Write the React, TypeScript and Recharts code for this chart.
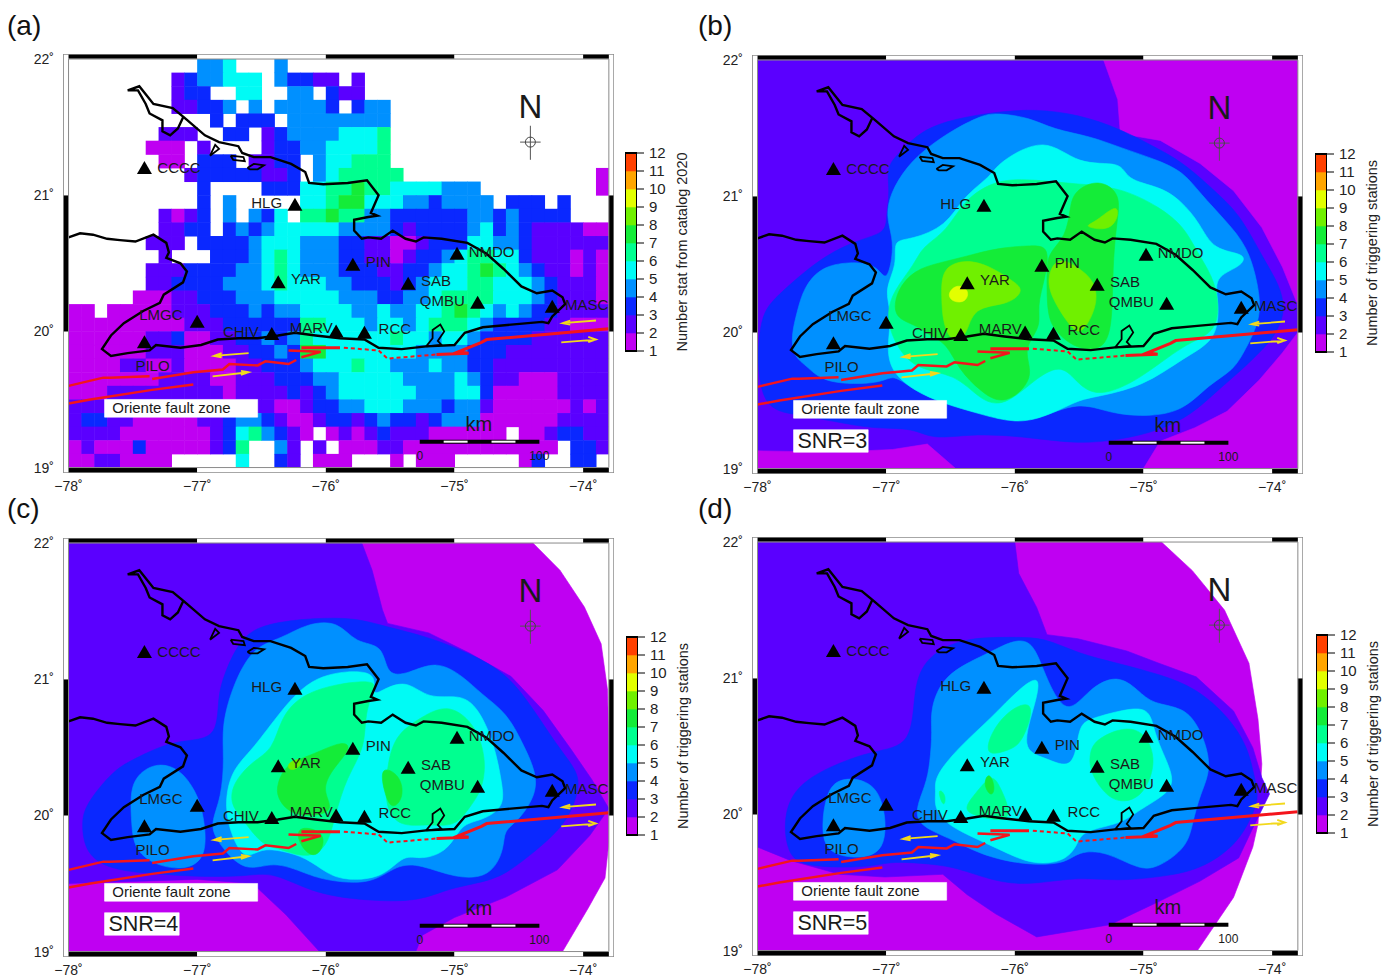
import React from "react";
import { ScatterChart, Scatter, XAxis, YAxis } from "recharts";

type Pt = number[];
type Zone = [number, Pt[]];

const FONT = "'Liberation Sans', Arial, sans-serif";

// colour of each level band 1-2, 2-3 ... 11-12
const levelColors = ["#bf00f2", "#5a00ff", "#0a28ff", "#0090ff", "#00fbf5", "#00ff90", "#14ec38", "#70f000", "#e2ff00", "#ffa500", "#ff4000"];
const levelTicks = [1, 2, 3, 4, 5, 6, 7, 8, 9, 10, 11, 12];
const lonTicks = [-78, -77, -76, -75, -74];
const latTicks = [19, 20, 21, 22];

const stations = [
  { name: "CCCC", lon: -77.41, lat: 21.2 },
  { name: "HLG", lon: -76.24, lat: 20.93 },
  { name: "PIN", lon: -75.79, lat: 20.49 },
  { name: "YAR", lon: -76.37, lat: 20.36 },
  { name: "SAB", lon: -75.36, lat: 20.35 },
  { name: "NMDO", lon: -74.98, lat: 20.57 },
  { name: "QMBU", lon: -74.82, lat: 20.21 },
  { name: "MASC", lon: -74.24, lat: 20.18 },
  { name: "LMGC", lon: -77.0, lat: 20.07 },
  { name: "PILO", lon: -77.41, lat: 19.92 },
  { name: "CHIV", lon: -76.42, lat: 19.98 },
  { name: "MARV", lon: -75.92, lat: 20.0 },
  { name: "RCC", lon: -75.7, lat: 19.99 },
];

const stationLabels = [
  { name: "CCCC", lon: -77.31, lat: 21.2 },
  { name: "HLG", lon: -76.58, lat: 20.95 },
  { name: "PIN", lon: -75.69, lat: 20.51 },
  { name: "YAR", lon: -76.27, lat: 20.39 },
  { name: "SAB", lon: -75.26, lat: 20.37 },
  { name: "NMDO", lon: -74.89, lat: 20.59 },
  { name: "QMBU", lon: -75.27, lat: 20.23 },
  { name: "MASC", lon: -74.14, lat: 20.2 },
  { name: "LMGC", lon: -77.45, lat: 20.125 },
  { name: "PILO", lon: -77.48, lat: 19.75 },
  { name: "CHIV", lon: -76.8, lat: 20.0 },
  { name: "MARV", lon: -76.28, lat: 20.03 },
  { name: "RCC", lon: -75.59, lat: 20.02 },
];

const coastMain: Pt[] = [
  [-78, 20.69], [-77.91, 20.72], [-77.81, 20.71], [-77.7, 20.68], [-77.6, 20.67], [-77.48, 20.66], [-77.34, 20.71], [-77.24, 20.65], [-77.22, 20.58], [-77.24, 20.54],
  [-77.13, 20.5], [-77.08, 20.44], [-77.11, 20.36], [-77.26, 20.27], [-77.29, 20.21], [-77.42, 20.15], [-77.57, 20.06], [-77.67, 19.97], [-77.74, 19.87], [-77.67, 19.82],
  [-77.54, 19.84], [-77.37, 19.86], [-77.32, 19.9], [-77.13, 19.88], [-76.97, 19.9], [-76.84, 19.94], [-76.68, 19.95], [-76.53, 19.95], [-76.37, 19.97], [-76.24, 19.99],
  [-76.08, 19.97], [-75.89, 19.95], [-75.7, 19.94], [-75.59, 19.88], [-75.41, 19.87], [-75.22, 19.89], [-75, 19.9], [-74.92, 19.99], [-74.78, 20.03], [-74.56, 20.05],
  [-74.32, 20.07], [-74.27, 20.06], [-74.24, 20.11], [-74.14, 20.2], [-74.16, 20.25], [-74.24, 20.3], [-74.36, 20.28], [-74.48, 20.33], [-74.62, 20.46], [-74.75, 20.57],
  [-74.9, 20.65], [-75.1, 20.68], [-75.24, 20.69], [-75.3, 20.66], [-75.38, 20.68], [-75.48, 20.74], [-75.57, 20.68], [-75.67, 20.69], [-75.72, 20.68], [-75.78, 20.74],
  [-75.78, 20.82], [-75.67, 20.84], [-75.6, 20.85], [-75.65, 20.87], [-75.59, 21], [-75.68, 21.11], [-75.83, 21.09], [-76.02, 21.08], [-76.13, 21.09], [-76.16, 21.17],
  [-76.27, 21.23], [-76.43, 21.28], [-76.56, 21.28], [-76.65, 21.31], [-76.68, 21.36], [-76.83, 21.39], [-76.94, 21.44], [-77.1, 21.57], [-77.19, 21.64], [-77.34, 21.67],
  [-77.45, 21.8], [-77.54, 21.77], [-77.46, 21.77], [-77.4, 21.67], [-77.37, 21.6], [-77.27, 21.55], [-77.27, 21.47], [-77.21, 21.44], [-77.15, 21.49], [-77.11, 21.57],
];
const coastIslands: Pt[][] = [
  [[-76.9, 21.29], [-76.83, 21.34], [-76.86, 21.37], [-76.9, 21.29]],
  [[-76.74, 21.29], [-76.64, 21.28], [-76.63, 21.25], [-76.72, 21.26], [-76.74, 21.29]],
  [[-76.61, 21.2], [-76.56, 21.23], [-76.48, 21.22], [-76.53, 21.19], [-76.59, 21.19], [-76.61, 21.2]],
  [[-75.22, 19.89], [-75.17, 19.95], [-75.17, 20.01], [-75.11, 20.05], [-75.08, 20], [-75.13, 19.93], [-75.1, 19.9], [-75.22, 19.89]],
];

const faultsSolid: Pt[][] = [
  [[-78, 19.6], [-77.73, 19.66], [-77.68, 19.66], [-77.37, 19.67]],
  [[-77.35, 19.65], [-77.03, 19.7], [-76.8, 19.72], [-76.75, 19.76], [-76.53, 19.75], [-76.47, 19.78], [-76.29, 19.76], [-76.23, 19.79]],
  [[-76.19, 19.81], [-76.04, 19.85], [-76.29, 19.86]],
  [[-76.19, 19.88], [-75.89, 19.88]],
  [[-75.14, 19.83], [-74.89, 19.84], [-74.97, 19.85], [-74.79, 19.92], [-74.75, 19.94], [-73.8, 20.02]],
  [[-78, 19.47], [-77.83, 19.5], [-77.35, 19.57], [-77.03, 19.61]],
];
const faultDashed: Pt[] = [[-75.86, 19.88], [-75.59, 19.86], [-75.52, 19.8], [-75.14, 19.83]];

const slipArrows: Pt[][] = [
  [[-73.9, 20.08], [-74.16, 20.06], [-74.1, 20.08], [-74.16, 20.06], [-74.1, 20.05]],
  [[-74.17, 19.92], [-73.9, 19.94], [-73.96, 19.96], [-73.9, 19.94], [-73.96, 19.92]],
  [[-76.6, 19.84], [-76.87, 19.82], [-76.81, 19.84], [-76.87, 19.82], [-76.81, 19.81]],
  [[-76.88, 19.67], [-76.6, 19.7], [-76.66, 19.71], [-76.6, 19.7], [-76.66, 19.68]],
];

const faultBox: Pt[] = [[-77.72, 19.5], [-76.53, 19.5], [-76.53, 19.37], [-77.72, 19.37]];
const snrBox: Pt[] = [[-77.72, 19.285], [-77.14, 19.285], [-77.14, 19.12], [-77.72, 19.12]];
const scaleLon = [-75.27, -75.084, -74.898, -74.712, -74.526, -74.34];

// panel (a): hit count per 0.1 degree cell, north to south, west to east, "." = none
const rowsA = [
  ["..........", "445...4...", "..........", "..........", "..."],
  ["........23", "44555.4332", "2.2.......", "..........", "..."],
  ["........23", "3..55..44.", "322.......", "..........", "..."],
  ["........22", "334.4.4444", "3.344.....", "..........", "..."],
  ["..........", ".3.333.444", "44444.....", "..........", "..."],
  [".......222", "..33.23444", "45556.....", "..........", "..."],
  ["......111.", "2....23344", "55556.....", "..........", "..."],
  [".......11.", "333.2233.4", "55666.....", "..........", "..."],
  [".........2", "33333223.4", "566666....", "..........", ".1."],
  ["..........", "3....33355", "6676655554", "44........", ".1."],
  ["..........", "3.4.....55", "6775554434", "444.333.3.", "..."],
  [".......212", "3.4.435.66", "7664433333", "344343333.", "..."],
  [".......223", "3.34345555", "5444432333", "3453432222", "111"],
  ["......222.", "3333455544", "4332211233", "3554432222", "222"],
  [".......2..", ".333456544", "4332212334", "5665532221", "211"],
  ["......2223", "3334456544", "4333223345", "5676543221", "211"],
  ["......2233", "3344456555", "4433323455", "5665554322", "211"],
  [".....11122", "3334445555", "5444334456", "6665554322", "211"],
  ["11.1111122", "2333434455", "5544544556", "7654543322", "222"],
  ["1111111112", "2233333366", "5554554566", "6543333221", "111"],
  ["1111112231", "1223343465", "5555565545", "5433332222", "221"],
  ["1111112221", "1122334377", "5555555444", "4333222222", "222"],
  ["1111221121", "1112233345", "5565544454", "4332222222", "222"],
  ["1111111222", "2112223334", "4555554444", "5432211122", "222"],
  ["1112222222", "2212222323", "4555555444", "5531111122", "222"],
  ["2222222222", "2222221123", "3445554443", "4421111112", "122"],
  ["2332211111", "2234432112", "3323433234", "4411111122", "222"],
  ["2222111111", "123564321.", "1212322211", "1111.11233", "221"],
  ["1211131111", "1236..42.2", ".111221111", "11111111.3", "321"],
  ["11221111..", "...5..32.1", "11...1.111", ".....13..3", "3.1"],
];

const zonesB: Zone[] = [
  [2, [[-78, 22], [-73.8, 22], [-73.8, 19], [-78, 19]]],
  [1, [[-75.31, 22], [-73.8, 22], [-73.8, 20.2], [-73.92, 20.48], [-74.08, 20.77], [-74.3, 21.04], [-74.56, 21.24], [-74.87, 21.41], [-75.18, 21.46], [-75.2, 21.71]]],
  [1, [[-73.8, 20], [-73.8, 19], [-75, 19], [-74.87, 19.2], [-74.6, 19.3], [-74.35, 19.42], [-74.1, 19.65], [-73.92, 19.85]]],
  [1, [[-78, 19.13], [-77.4, 19.12], [-76.95, 19.14], [-76.68, 19.18], [-76.46, 19], [-78, 19]]],
  [3, [[-77, 20.73], [-77.22, 20.68], [-77.51, 20.55], [-77.86, 20.26], [-78, 20.11], [-78, 19.45], [-77.73, 19.4], [-77.42, 19.35], [-77.1, 19.29], [-76.78, 19.3], [-76.65, 19.21], [-76.3, 19.26], [-75.89, 19.23], [-75.51, 19.18], [-75.19, 19.21], [-74.87, 19.28], [-74.62, 19.4], [-74.43, 19.57], [-74.24, 19.72], [-74.08, 19.87], [-73.98, 19.97], [-73.89, 20.16], [-73.95, 20.36], [-74.05, 20.51], [-74.24, 20.85], [-74.4, 21], [-74.68, 21.24], [-74.87, 21.34], [-75.19, 21.5], [-75.51, 21.6], [-75.83, 21.64], [-76.14, 21.62], [-76.46, 21.57], [-76.72, 21.49], [-76.91, 21.31], [-77, 21.21], [-76.97, 21.04], [-77, 20.85]]],
  [4, [[-77, 20.36], [-77.07, 20.5], [-77.29, 20.52], [-77.51, 20.48], [-77.64, 20.33], [-77.69, 20.16], [-77.74, 19.97], [-77.72, 19.82], [-77.61, 19.75], [-77.48, 19.62], [-77.03, 19.62], [-76.95, 19.7], [-76.78, 19.57], [-76.56, 19.48], [-76.27, 19.4], [-76.02, 19.38], [-75.83, 19.35], [-75.51, 19.5], [-75.25, 19.4], [-74.94, 19.38], [-74.68, 19.43], [-74.49, 19.62], [-74.3, 19.72], [-74.21, 19.87], [-74.08, 20.11], [-74.11, 20.36], [-74.19, 20.63], [-74.36, 20.82], [-74.56, 21.02], [-74.68, 21.17], [-74.87, 21.26], [-75.19, 21.36], [-75.41, 21.44], [-75.7, 21.49], [-75.89, 21.58], [-76.14, 21.61], [-76.24, 21.6], [-76.46, 21.5], [-76.68, 21.36], [-76.84, 21.22], [-76.97, 21.02], [-77, 20.85], [-76.95, 20.7], [-76.95, 20.55]]],
  [5, [[-76.95, 20.68], [-76.91, 20.5], [-77.02, 20.31], [-76.95, 20.14], [-77, 19.87], [-76.95, 19.7], [-76.78, 19.57], [-76.56, 19.48], [-76.27, 19.4], [-75.99, 19.33], [-75.76, 19.38], [-75.51, 19.5], [-75.41, 19.52], [-75, 19.6], [-74.68, 19.82], [-74.43, 19.94], [-74.41, 20.21], [-74.46, 20.41], [-74.24, 20.48], [-74.19, 20.58], [-74.46, 20.6], [-74.56, 20.8], [-74.71, 20.97], [-74.87, 21.07], [-75.14, 21.12], [-75.16, 21.26], [-75.51, 21.22], [-75.76, 21.45], [-76.14, 21.24], [-76.18, 21.15], [-76.4, 21], [-76.53, 20.78], [-76.81, 20.68]]],
  [6, [[-76.53, 20.74], [-76.4, 20.97], [-76.14, 21.13], [-75.83, 21.12], [-75.54, 21.09], [-75.19, 21.07], [-74.87, 20.92], [-74.68, 20.77], [-74.59, 20.6], [-74.46, 20.41], [-74.41, 20.21], [-74.44, 19.99], [-74.68, 19.92], [-75.03, 19.65], [-75.35, 19.52], [-75.51, 19.62], [-75.63, 19.77], [-75.83, 19.67], [-76.08, 19.45], [-76.27, 19.5], [-76.46, 19.7], [-76.78, 19.72], [-76.95, 19.94], [-77, 20.14], [-76.94, 20.31], [-76.78, 20.5], [-76.72, 20.63]]],
  [7, [[-76.78, 20.46], [-76.59, 20.51], [-76.37, 20.56], [-76.14, 20.62], [-75.86, 20.64], [-75.73, 20.63], [-75.76, 20.41], [-75.83, 20.19], [-75.79, 20.04], [-75.95, 19.87], [-75.83, 19.67], [-76.08, 19.45], [-76.27, 19.57], [-76.43, 19.72], [-76.53, 19.92], [-76.65, 19.97], [-76.78, 20.06], [-76.95, 20.11], [-76.92, 20.31]]],
  [7, [[-75.54, 21.04], [-75.35, 21.13], [-75.17, 21.02], [-75.21, 20.8], [-75.24, 20.48], [-75.24, 20.11], [-75.29, 19.87], [-75.51, 19.87], [-75.67, 19.99], [-75.75, 20.11], [-75.75, 20.41], [-75.75, 20.58], [-75.6, 20.7], [-75.57, 20.92]]],
  [8, [[-76.57, 20.48], [-76.37, 20.54], [-76.18, 20.48], [-76.02, 20.38], [-75.92, 20.31], [-76.05, 20.2], [-76.33, 20.19], [-76.37, 19.97], [-76.49, 19.92], [-76.56, 20.07], [-76.57, 20.26]]],
  [8, [[-75.67, 20.56], [-75.51, 20.48], [-75.38, 20.38], [-75.35, 20.21], [-75.48, 19.97], [-75.57, 20.04], [-75.72, 20.26], [-75.75, 20.41]]],
  [8, [[-75.38, 20.8], [-75.17, 20.98], [-75.22, 20.73], [-75.48, 20.78]]],
  [9, [[-76.53, 20.28], [-76.45, 20.36], [-76.35, 20.31], [-76.38, 20.22], [-76.48, 20.22]]],
];

const zonesC: Zone[] = [
  [1, [[-75.72, 22], [-74.39, 22], [-74.18, 21.8], [-73.99, 21.53], [-73.86, 21.26], [-73.81, 20.92], [-73.8, 20.5], [-73.8, 19.8], [-73.83, 19.54], [-73.96, 19.32], [-74.16, 19], [-78, 19], [-78, 19.6]]],
  [2, [[-78, 22], [-75.72, 22], [-75.64, 21.8], [-75.56, 21.51], [-75.52, 21.41], [-75.2, 21.34], [-74.88, 21.19], [-74.56, 21.02], [-74.31, 20.77], [-74.09, 20.48], [-73.93, 20.26], [-73.8, 20.05], [-73.95, 19.85], [-74.2, 19.6], [-74.6, 19.4], [-75, 19.25], [-75.25, 19.12], [-75.3, 19], [-76.05, 19], [-76.31, 19.27], [-76.57, 19.5], [-77, 19.53], [-78, 19.5]]],
  [3, [[-77.9, 19.94], [-77.87, 20.08], [-77.65, 20.33], [-77.52, 20.4], [-77.24, 20.53], [-77.05, 20.55], [-76.84, 20.58], [-76.84, 20.87], [-76.79, 21.04], [-76.66, 21.31], [-76.47, 21.41], [-76.09, 21.45], [-75.77, 21.45], [-75.55, 21.39], [-75.2, 21.31], [-74.88, 21.19], [-74.59, 21.04], [-74.4, 20.8], [-74.18, 20.48], [-74.02, 20.3], [-74.05, 20.13], [-74.12, 19.98], [-74.24, 19.84], [-74.5, 19.64], [-74.69, 19.52], [-75.04, 19.47], [-75.26, 19.37], [-75.64, 19.37], [-76.09, 19.42], [-76.41, 19.59], [-76.63, 19.55], [-77.01, 19.55], [-77.33, 19.57], [-77.68, 19.6], [-77.87, 19.72]]],
  [4, [[-77.52, 20.13], [-77.49, 20.28], [-77.33, 20.39], [-77.14, 20.35], [-77.01, 20.18], [-76.95, 20.01], [-76.92, 19.72], [-77.05, 19.6], [-77.3, 19.62], [-77.49, 19.74], [-77.51, 19.94]]],
  [4, [[-76.81, 20.65], [-76.73, 20.94], [-76.57, 21.24], [-76.34, 21.3], [-76.15, 21.41], [-75.9, 21.43], [-75.77, 21.26], [-75.55, 21.26], [-75.53, 21.02], [-75.36, 21.04], [-75.14, 21.14], [-74.93, 21.02], [-74.79, 20.89], [-74.59, 20.75], [-74.47, 20.53], [-74.37, 20.33], [-74.36, 20.16], [-74.5, 19.96], [-74.62, 19.89], [-74.61, 19.76], [-74.72, 19.54], [-75, 19.54], [-75.26, 19.64], [-75.45, 19.64], [-75.64, 19.49], [-75.99, 19.52], [-76.15, 19.57], [-76.41, 19.67], [-76.63, 19.57], [-76.85, 19.81], [-76.9, 19.94], [-76.81, 20.13], [-76.79, 20.43]]],
  [5, [[-76.74, 20.33], [-76.57, 20.48], [-76.35, 20.77], [-76.09, 21.04], [-75.68, 21.07], [-75.61, 21], [-75.64, 20.87], [-75.53, 20.94], [-75.36, 20.99], [-75.2, 20.85], [-74.96, 20.89], [-74.82, 20.8], [-74.69, 20.53], [-74.63, 20.23], [-74.61, 20.06], [-74.79, 19.96], [-74.95, 19.94], [-75.04, 19.74], [-75.26, 19.67], [-75.39, 19.72], [-75.55, 19.54], [-75.84, 19.52], [-75.99, 19.57], [-76.15, 19.69], [-76.34, 19.74], [-76.5, 19.76], [-76.63, 19.67], [-76.73, 19.84], [-76.79, 20.06]]],
  [6, [[-76.73, 20.23], [-76.57, 20.4], [-76.41, 20.48], [-76.35, 20.72], [-76.19, 20.89], [-75.9, 20.97], [-75.64, 20.99], [-75.61, 20.95], [-75.7, 20.75], [-75.69, 20.5], [-75.84, 20.28], [-75.93, 19.99], [-75.99, 19.76], [-76.15, 19.68], [-76.37, 19.76], [-76.5, 19.78], [-76.66, 19.99], [-76.74, 20.08]]],
  [6, [[-75.52, 20.4], [-75.45, 20.6], [-75.26, 20.72], [-75.04, 20.83], [-74.82, 20.65], [-74.75, 20.38], [-74.79, 20.18], [-74.88, 20.06], [-75, 19.91], [-75.2, 19.94], [-75.42, 19.91], [-75.55, 20.06]]],
  [7, [[-76.38, 20.23], [-76.31, 20.38], [-76.09, 20.45], [-75.87, 20.55], [-75.79, 20.5], [-75.96, 20.33], [-76.03, 20.18], [-75.93, 20.04], [-76.09, 19.99], [-76.28, 20.01], [-76.38, 20.13]]],
  [7, [[-75.58, 20.37], [-75.42, 20.3], [-75.39, 20.13], [-75.49, 20.03], [-75.55, 20.18]]],
  [7, [[-76.22, 19.93], [-76, 19.88], [-76.03, 19.73], [-76.12, 19.69], [-76.22, 19.81]]],
  [8, [[-76.31, 20.38], [-76.19, 20.43], [-76.19, 20.36], [-76.28, 20.32]]],
];

const zonesD: Zone[] = [
  [1, [[-76, 22], [-74.86, 22], [-74.62, 21.79], [-74.37, 21.5], [-74.18, 21.11], [-74.11, 20.7], [-74.08, 20.37], [-74.11, 19.93], [-74.15, 19.76], [-74.3, 19.39], [-74.58, 19], [-78, 19], [-78, 19.8]]],
  [2, [[-78, 22], [-76, 22], [-75.97, 21.77], [-75.83, 21.52], [-75.75, 21.32], [-75.51, 21.29], [-75.13, 21.2], [-74.88, 21.11], [-74.59, 21.01], [-74.3, 20.76], [-74.15, 20.49], [-74.08, 20.27], [-74.02, 20.15], [-74.16, 19.88], [-74.26, 19.68], [-74.56, 19.51], [-74.88, 19.36], [-75.26, 19.19], [-75.83, 19.1], [-76.15, 19.27], [-76.37, 19.41], [-76.56, 19.56], [-77.01, 19.54], [-77.36, 19.56], [-77.74, 19.66], [-78, 19.76]]],
  [3, [[-77.8, 19.98], [-77.71, 20.2], [-77.45, 20.35], [-77.1, 20.47], [-76.79, 20.5], [-76.79, 20.93], [-76.69, 21.16], [-76.4, 21.3], [-76.02, 21.3], [-75.77, 21.3], [-75.51, 21.18], [-75.2, 21.11], [-74.88, 21.03], [-74.59, 20.93], [-74.33, 20.71], [-74.19, 20.49], [-74.15, 20.32], [-74.1, 20.13], [-74.15, 20], [-74.27, 19.78], [-74.56, 19.59], [-74.88, 19.54], [-75.2, 19.51], [-75.51, 19.54], [-75.83, 19.49], [-76.09, 19.49], [-76.4, 19.59], [-76.56, 19.63], [-76.98, 19.66], [-77.1, 19.61], [-77.64, 19.61], [-77.77, 19.71]]],
  [4, [[-77.47, 20.13], [-77.39, 20.27], [-77.14, 20.26], [-77.01, 20.1], [-76.99, 19.71], [-77.26, 19.67], [-77.48, 19.73], [-77.5, 19.93]]],
  [4, [[-76.64, 20.62], [-76.66, 20.76], [-76.56, 21.03], [-76.21, 21.18], [-76.02, 21.28], [-75.86, 21.28], [-75.77, 21.03], [-75.6, 20.7], [-75.42, 20.93], [-75.2, 21.03], [-75.04, 20.91], [-74.93, 20.81], [-74.69, 20.79], [-74.56, 20.64], [-74.46, 20.35], [-74.56, 20.15], [-74.62, 19.93], [-74.66, 19.76], [-74.88, 19.61], [-75.03, 19.59], [-75.29, 19.73], [-75.51, 19.73], [-75.61, 19.63], [-75.96, 19.63], [-76.28, 19.71], [-76.47, 19.81], [-76.66, 19.88], [-76.8, 19.98], [-76.69, 20.22], [-76.66, 20.37]]],
  [5, [[-76.63, 20.27], [-76.44, 20.49], [-76.18, 20.71], [-75.96, 20.93], [-75.8, 21.03], [-75.83, 20.84], [-75.96, 20.47], [-75.77, 20.42], [-75.55, 20.32], [-75.51, 20.57], [-75.48, 20.67], [-75.39, 20.71], [-75.07, 20.79], [-74.94, 20.76], [-74.91, 20.56], [-74.75, 20.27], [-74.81, 20.15], [-75.04, 20.03], [-75.17, 19.93], [-75.48, 19.88], [-75.51, 19.78], [-75.61, 19.65], [-75.87, 19.63], [-76.09, 19.73], [-76.37, 19.85], [-76.53, 19.93], [-76.63, 20.05], [-76.61, 20.17]]],
  [6, [[-76.18, 20.62], [-76.02, 20.79], [-75.83, 20.84], [-75.94, 20.52], [-76.05, 20.47], [-76.24, 20.42]]],
  [6, [[-76.18, 20.3], [-76.12, 20.22], [-75.99, 19.93], [-76.28, 19.98], [-76.41, 20.03], [-76.31, 20.15]]],
  [6, [[-75.42, 20.47], [-75.35, 20.57], [-75.04, 20.68], [-74.88, 20.42], [-75, 20.12], [-75.2, 20.08], [-75.32, 20.17], [-75.42, 20.32]]],
  [6, [[-76.61, 20.2], [-76.53, 20.15], [-76.55, 20.03]]],
  [7, [[-76.25, 20.22], [-76.2, 20.32], [-76.15, 20.2], [-76.18, 20.12]]],
];

const NoDot = () => <g />;

const Triangle = (p: any) => (
  <polygon points={`${p.cx},${p.cy - 7} ${p.cx + 7.5},${p.cy + 6} ${p.cx - 7.5},${p.cy + 6}`} fill="#000" />
);

const MapText = (p: any) => {
  const d = p.payload || {};
  return (
    <text x={p.cx} y={p.cy} dominantBaseline="central" textAnchor={d.anchor || "start"} fontFamily={FONT} fontSize={d.size || 15} fill="#1a1a1a">
      {d.name}
    </text>
  );
};

const toXY = (pts: Pt[]) => pts.map(([x, y]) => ({ x, y }));
const toMarks = (rows: { name: string; lon: number; lat: number }[], extra = {}) =>
  rows.map((r) => ({ ...r, ...extra, x: r.lon, y: r.lat }));

const RIGHT_EDGE = -73.8;
const PX_PER_LON = 128.6;

const cellsA = rowsA.flatMap((chunks, r) =>
  chunks.join("").split("").flatMap((ch, c) =>
    ch === "." ? [] : [{ x: -77.95 + c * 0.1, y: 21.95 - r * 0.1, level: Number(ch) }],
  ),
);

const CellRect = (p: any) => {
  const lon = p.payload.x;
  const w = Math.max(0, Math.min(13.4, (RIGHT_EDGE - (lon - 0.05)) * PX_PER_LON));
  return <rect x={p.cx - 6.45} y={p.cy - 6.85} width={w} height={14.1} fill={levelColors[p.payload.level - 1]} />;
};

const poly = (pts: Pt[], fill: string, key: string, smooth = false) => (
  <Scatter
    key={key}
    data={toXY(pts)}
    line={{ fill, stroke: fill, strokeWidth: 0.6 }}
    lineJointType={smooth ? "basisClosed" : "linearClosed"}
    shape={NoDot}
    isAnimationActive={false}
  />
);
const path = (pts: Pt[], stroke: string, width: number, key: string, dash?: string) => (
  <Scatter key={key} data={toXY(pts)} line={{ fill: "none", stroke, strokeWidth: width, strokeDasharray: dash }} shape={NoDot} isAnimationActive={false} />
);

function frameParts() {
  const out: React.ReactNode[] = [];
  const xEdges = [-78, -77, -76, -75, -74, RIGHT_EDGE];
  xEdges.slice(0, -1).forEach((x, i) => {
    const c = i % 2 === 0 ? "#000" : "#fff";
    out.push(path([[x, 22.022], [xEdges[i + 1], 22.022]], c, 5.5, `ft${i}`));
    out.push(path([[x, 18.978], [xEdges[i + 1], 18.978]], c, 5.5, `fb${i}`));
  });
  [19, 20, 21].forEach((y, i) => {
    const c = i === 1 ? "#000" : "#fff";
    out.push(path([[-78.021, y], [-78.021, y + 1]], c, 5.5, `fl${i}`));
    out.push(path([[-73.779, y], [-73.779, y + 1]], c, 5.5, `fr${i}`));
  });
  out.push(path([[-78.041, 18.962], [-78.041, 22.035], [-73.761, 22.035], [-73.761, 18.962], [-78.041, 18.962]], "#8a8a8a", 1.2, "fo"));
  out.push(path([[-78, 19], [-78, 22], [RIGHT_EDGE, 22], [RIGHT_EDGE, 19], [-78, 19]], "#8a8a8a", 1, "fi"));
  return out;
}

function MapPanel({ left, top, zones, cells, snr }: { left: number; top: number; zones?: Zone[]; cells?: boolean; snr?: string }) {
  return (
    <div style={{ position: "absolute", left: left - 30, top: top - 5 }}>
      <ScatterChart width={587} height={450} margin={{ top: 5, right: 6, bottom: 0, left: 0 }}>
        <XAxis
          type="number"
          dataKey="x"
          domain={[-78.043, -73.76]}
          ticks={lonTicks}
          interval={0}
          allowDataOverflow
          axisLine={false}
          tickLine={false}
          height={26}
          tickMargin={2}
          tick={{ fontSize: 14, fill: "#222", fontFamily: FONT }}
          tickFormatter={(v: number) => `\u2212${Math.abs(v)}\u02DA`}
        />
        <YAxis
          type="number"
          dataKey="y"
          domain={[18.96, 22.037]}
          ticks={latTicks}
          interval={0}
          allowDataOverflow
          axisLine={false}
          tickLine={false}
          width={30}
          tickMargin={3}
          tick={{ fontSize: 14, fill: "#222", fontFamily: FONT }}
          tickFormatter={(v: number) => `${v}\u02DA`}
        />
        {cells ? <Scatter data={cellsA} shape={CellRect} isAnimationActive={false} /> : null}
        {(zones || []).map(([lv, pts], i) => poly(pts, levelColors[lv - 1], `z${i}`, lv >= 3))}
        {faultsSolid.map((f, i) => path(f, "#f4141c", i === 4 || i === 3 ? 3 : 2.4, `f${i}`))}
        {path(faultDashed, "#f4141c", 2, "fd", "4 3")}
        {slipArrows.map((a, i) => path(a, "#f2d81c", 1.8, `a${i}`))}
        {path(coastMain, "#000", 2.4, "coast")}
        {coastIslands.map((c, i) => path(c, "#000", 1.8, `i${i}`))}
        {poly(faultBox, "#fff", "fbx")}
        {snr ? poly(snrBox, "#fff", "sbx") : null}
        {path([[-75.27, 19.19], [-74.34, 19.19]], "#000", 4, "sb")}
        {path([[scaleLon[1], 19.19], [scaleLon[2], 19.19]], "#fff", 2, "sb1")}
        {path([[scaleLon[3], 19.19], [scaleLon[4], 19.19]], "#fff", 2, "sb2")}
        {path([[-74.41, 21.51], [-74.41, 21.26]], "#555", 1, "c1")}
        {path([[-74.49, 21.39], [-74.33, 21.39]], "#555", 1, "c2")}
        <Scatter
          data={[{ x: -74.41, y: 21.39 }]}
          shape={(p: any) => <circle cx={p.cx} cy={p.cy} r={5} fill="none" stroke="#444" strokeWidth={1} />}
          isAnimationActive={false}
        />
        <Scatter data={toMarks(stations)} shape={Triangle} isAnimationActive={false} />
        <Scatter data={toMarks(stationLabels)} shape={MapText} isAnimationActive={false} />
        <Scatter data={toMarks([{ name: "Oriente fault zone", lon: -77.66, lat: 19.44 }])} shape={MapText} isAnimationActive={false} />
        {snr ? (
          <Scatter data={toMarks([{ name: snr, lon: -77.69, lat: 19.2 }], { size: 21.5 })} shape={MapText} isAnimationActive={false} />
        ) : null}
        <Scatter data={toMarks([{ name: "N", lon: -74.41, lat: 21.65 }], { size: 33, anchor: "middle" })} shape={MapText} isAnimationActive={false} />
        <Scatter data={toMarks([{ name: "km", lon: -74.81, lat: 19.32 }], { size: 20, anchor: "middle" })} shape={MapText} isAnimationActive={false} />
        <Scatter
          data={toMarks([{ name: "0", lon: -75.27, lat: 19.085 }, { name: "100", lon: -74.34, lat: 19.085 }], { size: 12, anchor: "middle" })}
          shape={MapText}
          isAnimationActive={false}
        />
        {frameParts()}
      </ScatterChart>
    </div>
  );
}

function ColorBar({ left, top, title }: { left: number; top: number; title: string }) {
  return (
    <div style={{ position: "absolute", left, top: top - 8 }}>
      <ScatterChart width={76} height={216} margin={{ top: 8, right: 16, bottom: 10, left: 0 }}>
        <XAxis type="number" dataKey="x" domain={[0, 1]} hide allowDataOverflow />
        <YAxis
          type="number"
          dataKey="y"
          orientation="right"
          domain={[1, 12]}
          ticks={levelTicks}
          interval={0}
          width={48}
          axisLine={false}
          tickSize={7}
          tickMargin={5}
          tickLine={{ stroke: "#000" }}
          tick={{ fontSize: 15, fill: "#222", fontFamily: FONT, textAnchor: "start" }}
          label={{ value: title, angle: -90, position: "insideRight", offset: 3, style: { fontSize: 14.5, fill: "#222", fontFamily: FONT, textAnchor: "middle" } }}
        />
        {levelColors.map((c, i) => poly([[0, i + 1], [1, i + 1], [1, i + 2], [0, i + 2]], c, `l${i}`))}
        {path([[0, 1], [1, 1], [1, 12], [0, 12], [0, 1]], "#000", 2, "box")}
      </ScatterChart>
    </div>
  );
}

const panelTag = (t: string, x: number, y: number) => (
  <div style={{ position: "absolute", left: x, top: y, fontFamily: FONT, fontSize: 28, lineHeight: "30px", color: "#111" }}>{t}</div>
);

export default function App() {
  return (
    <div style={{ position: "absolute", left: 0, top: 0, width: 1391, height: 977, background: "#fff", overflow: "hidden" }}>
      {panelTag("(a)", 7, 11)}
      {panelTag("(b)", 698, 11)}
      {panelTag("(c)", 7, 494)}
      {panelTag("(d)", 698, 494)}
      <MapPanel left={62.5} top={54} cells />
      <MapPanel left={751.5} top={55} zones={zonesB} snr="SNR=3" />
      <MapPanel left={62.5} top={538} zones={zonesC} snr="SNR=4" />
      <MapPanel left={752} top={537} zones={zonesD} snr="SNR=5" />
      <ColorBar left={625} top={153} title="Number stat from catalog 2020" />
      <ColorBar left={1315} top={154} title="Number of triggering stations" />
      <ColorBar left={626} top={637} title="Number of triggering stations" />
      <ColorBar left={1316} top={635} title="Number of triggering stations" />
    </div>
  );
}
